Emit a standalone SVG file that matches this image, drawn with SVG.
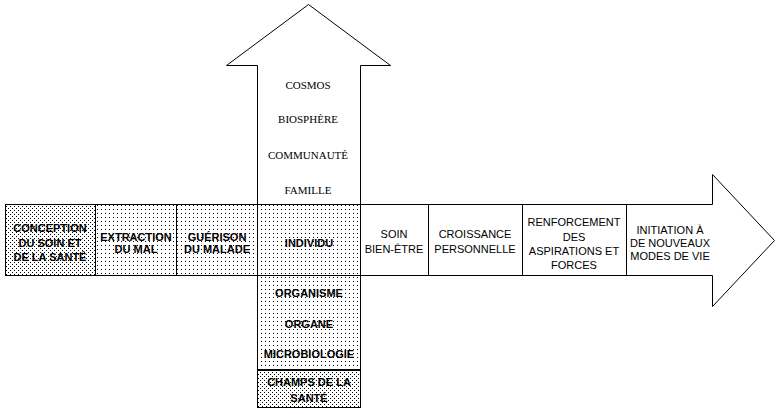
<svg xmlns="http://www.w3.org/2000/svg" width="777" height="414" viewBox="0 0 777 414">
<defs>
<pattern id="dense" width="4" height="4" patternUnits="userSpaceOnUse"><rect width="4" height="4" fill="#fff"/><rect x="0" y="0" width="1" height="1" fill="#000"/><rect x="2" y="2" width="1" height="1" fill="#000"/></pattern>
<pattern id="light" width="4" height="4" patternUnits="userSpaceOnUse"><rect width="4" height="4" fill="#fff"/><rect x="1" y="1" width="1" height="1" fill="#000"/></pattern>
</defs>
<style>
.ln{fill:none;stroke:#000;stroke-width:1;shape-rendering:crispEdges}
.arr{fill:#fff;stroke:#000;stroke-width:1}
.b{font-family:"Liberation Sans",Arial,sans-serif;font-size:11px;font-weight:bold;text-anchor:middle;fill:#000}
.r{font-family:"Liberation Sans",Arial,sans-serif;font-size:11px;text-anchor:middle;fill:#000}
.s{font-family:"Liberation Serif","Times New Roman",serif;font-size:11px;text-anchor:middle;fill:#000}
</style>
<rect width="777" height="414" fill="#fff"/>
<g id="arrows">
<polygon class="arr" points="257.5,204.5 257.5,65.5 226.5,65.5 308.5,4.5 390.5,65.5 360.5,65.5 360.5,204.5"/>
<polygon class="arr" points="5.5,204.5 712.5,204.5 712.5,174.5 774.5,240.5 712.5,306.5 712.5,275.5 5.5,275.5"/>
</g>
<g id="conception">
<rect x="5.5" y="204.5" width="90" height="71" class="ln" style="fill:url(#dense)"/>
<text class="b" x="50" y="232">CONCEPTION</text>
<text class="b" x="50" y="247">DU SOIN ET</text>
<text class="b" x="50" y="261">DE LA SANTÉ</text>
</g>
<g id="extraction">
<rect x="95.5" y="204.5" width="81" height="71" class="ln" style="fill:url(#light)"/>
<text class="b" x="136" y="241">EXTRACTION</text>
<text class="b" x="136" y="253">DU MAL</text>
</g>
<g id="guerison">
<rect x="176.5" y="204.5" width="81" height="71" class="ln" style="fill:url(#light)"/>
<text class="b" x="217" y="241">GUÉRISON</text>
<text class="b" x="217" y="253">DU MALADE</text>
</g>
<g id="individu">
<rect x="257.5" y="204.5" width="103" height="71" class="ln" style="fill:url(#light)"/>
<text class="b" x="309" y="247">INDIVIDU</text>
</g>
<g id="soin">
<rect x="360.5" y="204.5" width="68" height="71" class="ln" style="fill:#fff"/>
<text class="r" x="394" y="238">SOIN</text>
<text class="r" x="394" y="253">BIEN-ÊTRE</text>
</g>
<g id="croissance">
<rect x="428.5" y="204.5" width="94" height="71" class="ln" style="fill:#fff"/>
<text class="r" x="475" y="238">CROISSANCE</text>
<text class="r" x="475" y="253">PERSONNELLE</text>
</g>
<g id="renforcement">
<rect x="522.5" y="204.5" width="104" height="71" class="ln" style="fill:#fff"/>
<text class="r" x="574" y="226">RENFORCEMENT</text>
<text class="r" x="574" y="241">DES</text>
<text class="r" x="574" y="255">ASPIRATIONS ET</text>
<text class="r" x="574" y="269">FORCES</text>
</g>
<g id="initiation">
<text class="r" x="670" y="234">INITIATION À</text>
<text class="r" x="670" y="247">DE NOUVEAUX</text>
<text class="r" x="670" y="260">MODES DE VIE</text>
</g>
<g id="niveaux-sup">
<text class="s" x="308" y="89">COSMOS</text>
<text class="s" x="308" y="123">BIOSPHÈRE</text>
<text class="s" x="308" y="159">COMMUNAUTÉ</text>
<text class="s" x="308" y="194">FAMILLE</text>
</g>
<g id="niveaux-inf">
<rect x="257.5" y="275.5" width="103" height="94" class="ln" style="fill:url(#light)"/>
<text class="b" x="309" y="297">ORGANISME</text>
<text class="b" x="309" y="328">ORGANE</text>
<text class="b" x="309" y="358">MICROBIOLOGIE</text>
</g>
<g id="champs">
<rect x="257.5" y="370.5" width="103" height="37" class="ln" style="fill:url(#dense)"/>
<line class="ln" x1="257" y1="369.5" x2="361" y2="369.5"/>
<text class="b" x="309" y="386">CHAMPS DE LA</text>
<text class="b" x="309" y="402">SANTÉ</text>
</g>
</svg>
